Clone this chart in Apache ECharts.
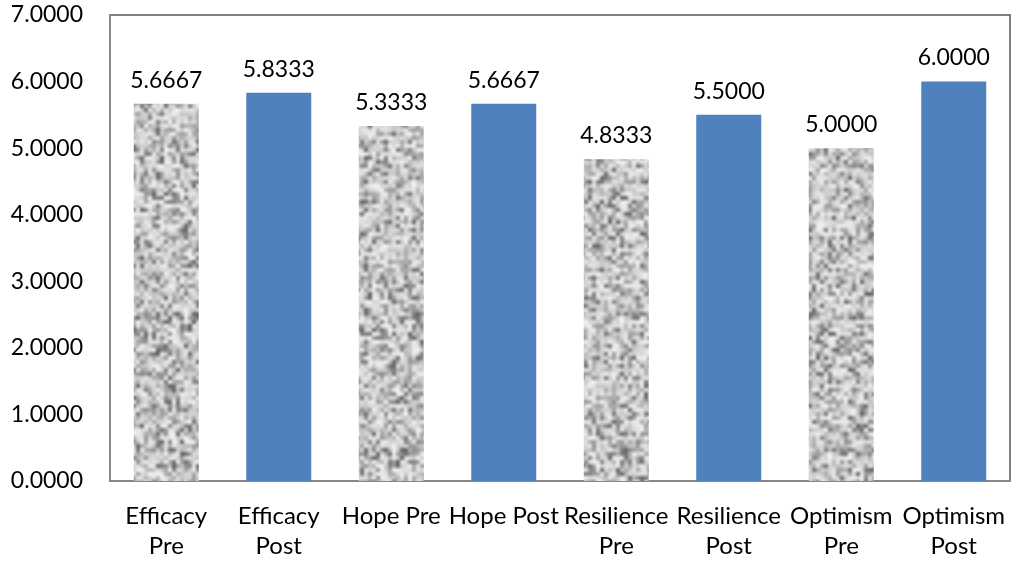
<!DOCTYPE html>
<html>
<head>
<meta charset="utf-8">
<script src="https://cdn.jsdelivr.net/npm/echarts@6/dist/echarts.min.js"></script>
<style>
  html, body { margin: 0; padding: 0; background: #fff; }
  #main { width: 1013px; height: 565px; }
</style>
</head>
<body>
<div id="main"></div>
<script>
const categories = ['Efficacy\nPre', 'Efficacy\nPost', 'Hope Pre', 'Hope Post',
  'Resilience\nPre', 'Resilience\nPost', 'Optimism\nPre', 'Optimism\nPost'];
const values = [5.6667, 5.8333, 5.3333, 5.6667, 4.8333, 5.5, 5.0, 6.0];
const isPre = [true, false, true, false, true, false, true, false];

// granite-like texture for the "Pre" bars (seeded so it is the same every run)
// sized to the whole chart so the pattern never visibly repeats
function makeTexture() {
  let seed = 12345;
  function rnd() {
    seed = (seed * 1103515245 + 12345) % 2147483648;
    return seed / 2147483648;
  }
  const sw = 256, sh = 144;
  const small = document.createElement('canvas');
  small.width = sw; small.height = sh;
  const sctx = small.getContext('2d');
  for (let y = 0; y < sh; y++) {
    for (let x = 0; x < sw; x++) {
      let r = rnd();
      let g = 195 + Math.floor(rnd() * 50);
      if (r < 0.15) g = 95 + Math.floor(rnd() * 50);
      else if (r < 0.38) g = 150 + Math.floor(rnd() * 35);
      sctx.fillStyle = 'rgb(' + g + ',' + g + ',' + g + ')';
      sctx.fillRect(x, y, 1, 1);
    }
  }
  const big = document.createElement('canvas');
  big.width = sw * 4; big.height = sh * 4;
  const bctx = big.getContext('2d');
  bctx.imageSmoothingEnabled = true;
  bctx.drawImage(small, 0, 0, big.width, big.height);
  return big;
}
const texture = makeTexture();

const myChart = echarts.init(document.getElementById('main'));

const option = {
  animation: false,
  textStyle: { fontFamily: 'Lato, "Open Sans", sans-serif' },
  grid: {
    left: 110, right: 3, top: 15, bottom: 84,
    show: true, borderColor: '#555', borderWidth: 1.5
  },
  xAxis: {
    type: 'category',
    data: categories,
    axisLine: { lineStyle: { color: '#888', width: 2 } },
    axisTick: { show: false },
    axisLabel: {
      color: '#000', fontSize: 24, lineHeight: 30, margin: 20, interval: 0
    }
  },
  yAxis: {
    type: 'value',
    min: 0, max: 7, interval: 1,
    axisLine: { show: true, lineStyle: { color: '#888', width: 2 } },
    axisTick: { show: false },
    splitLine: { show: false },
    axisLabel: {
      color: '#000', fontSize: 23, margin: 27,
      formatter: function (v) { return v.toFixed(4); }
    }
  },
  series: [{
    type: 'bar',
    barWidth: 65,
    data: values.map(function (v, i) {
      return {
        value: v,
        itemStyle: {
          color: isPre[i] ? { image: texture, repeat: 'repeat' } : '#4F81BD'
        }
      };
    }),
    label: {
      show: true, position: 'top', distance: 12,
      color: '#000', fontSize: 23,
      formatter: function (p) { return p.value.toFixed(4); }
    }
  }]
};

myChart.setOption(option);
</script>
</body>
</html>
